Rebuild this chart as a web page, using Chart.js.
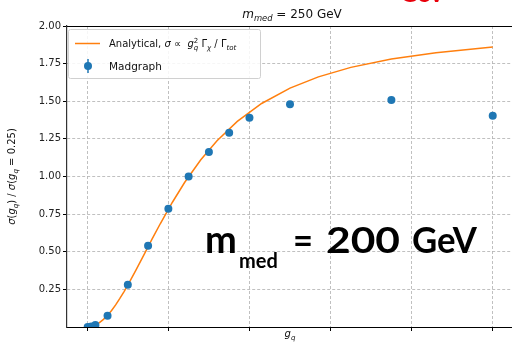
<!DOCTYPE html>
<html>
<head>
<meta charset="utf-8">
<script src="https://cdn.jsdelivr.net/npm/chart.js@4"></script>
<style>
  html, body { margin: 0; padding: 0; background: #fff; overflow: hidden; }
  #wrap { width: 513px; height: 344px; }
</style>
</head>
<body>
<div id="wrap"><canvas id="myChart" width="513" height="344"></canvas></div>
<script>
/* values */
const X_TICKS = [0, 0.2, 0.4, 0.6, 0.8, 1.0];
const Y_TICKS = [0.25, 0.5, 0.75, 1.0, 1.25, 1.5, 1.75, 2.0];

// Madgraph points
const gqMadgraph = [0.001, 0.01, 0.02, 0.05, 0.1, 0.15, 0.2, 0.25, 0.3, 0.35, 0.4, 0.5, 0.75, 1.0];
const sigMadgraph = [0.0, 0.003, 0.013, 0.075, 0.28, 0.54, 0.786, 1.0, 1.163, 1.29, 1.39, 1.48, 1.508, 1.404];

// analytical curve
const gqAnalytical = [0.001, 0.01, 0.02, 0.03, 0.04, 0.05, 0.06, 0.07, 0.08, 0.09, 0.1, 0.12, 0.14, 0.16,
    0.18, 0.21, 0.24, 0.28, 0.32, 0.37, 0.43, 0.5, 0.57, 0.65, 0.75, 0.86, 1.0];
const sigAnalytical = [0.0, 0.003, 0.013, 0.029, 0.051, 0.078, 0.110, 0.147, 0.188, 0.232, 0.279, 0.378, 0.481, 0.585,
    0.686, 0.829, 0.960, 1.111, 1.238, 1.366, 1.485, 1.587, 1.662, 1.725, 1.780, 1.823, 1.86];

const BLUE = '#1f77b4';
const ORANGE = '#ff7f0e';
const FONT = '"DejaVu Sans"';

Chart.defaults.font.family = FONT;

const toPoints = (xs, ys) => xs.map((x, i) => ({x: x, y: ys[i]}));

// text with italic / sub / sup pieces, like matplotlib mathtext
function rich(ctx, parts, size, x, y, draw) {
    let cx = x;
    parts.forEach(p => {
        if (p.ss) {
            ctx.font = 'italic ' + (size * 0.7) + 'px ' + FONT;
            const w1 = ctx.measureText(p.sup).width;
            const w2 = ctx.measureText(p.sub).width;
            if (draw) {
                ctx.font = (size * 0.7) + 'px ' + FONT;
                ctx.fillText(p.sup, cx, y - size * 0.42);
                ctx.font = 'italic ' + (size * 0.7) + 'px ' + FONT;
                ctx.fillText(p.sub, cx, y + size * 0.25);
            }
            cx += Math.max(w1, w2);
        } else {
            const s = p.sub ? size * 0.7 : size;
            ctx.font = (p.i ? 'italic ' : '') + s + 'px ' + FONT;
            if (draw) ctx.fillText(p.t, cx, y + (p.sub ? size * 0.25 : 0));
            cx += ctx.measureText(p.t).width;
        }
    });
    return cx - x;
}
function richCentered(ctx, parts, size, cx, y) {
    const w = rich(ctx, parts, size, 0, 0, false);
    rich(ctx, parts, size, cx - w / 2, y, true);
}
// stretch a word to the width it has in the picture
function fitText(ctx, text, x, y, width) {
    const w = ctx.measureText(text).width;
    ctx.save();
    ctx.translate(x, y);
    ctx.scale(width / w, 1);
    ctx.fillText(text, 0, 0);
    ctx.restore();
}

const extras = {
    id: 'extras',
    afterDraw(chart) {
        const ctx = chart.ctx;
        const a = chart.chartArea;
        ctx.save();
        ctx.textBaseline = 'alphabetic';
        ctx.textAlign = 'left';

        // top spine
        ctx.strokeStyle = '#000';
        ctx.lineWidth = 1;
        ctx.beginPath();
        ctx.moveTo(a.left, a.top + 0.5);
        ctx.lineTo(a.right, a.top + 0.5);
        ctx.stroke();

        ctx.fillStyle = '#111';
        // title
        richCentered(ctx, [{t: 'm', i: 1}, {t: 'med', i: 1, sub: 1}, {t: ' = 250 GeV'}], 12, (a.left + a.right) / 2 + 2, 18);
        // x label
        richCentered(ctx, [{t: 'g', i: 1}, {t: 'q', i: 1, sub: 1}], 10, (a.left + a.right) / 2, 337);
        // y label
        ctx.save();
        ctx.translate(15, (a.top + a.bottom) / 2);
        ctx.rotate(-Math.PI / 2);
        richCentered(ctx, [{t: 'σ', i: 1}, {t: '('}, {t: 'g', i: 1}, {t: 'q', i: 1, sub: 1}, {t: ') / '},
            {t: 'σ', i: 1}, {t: '('}, {t: 'g', i: 1}, {t: 'q', i: 1, sub: 1}, {t: ' = 0.25)'}], 10, 0, 0);
        ctx.restore();

        // legend
        ctx.fillStyle = 'rgba(255,255,255,0.85)';
        ctx.strokeStyle = '#d0d0d0';
        ctx.lineWidth = 1;
        ctx.beginPath();
        ctx.roundRect(68.5, 29.5, 192, 49, 2);
        ctx.fill();
        ctx.stroke();

        ctx.strokeStyle = ORANGE;
        ctx.lineWidth = 1.5;
        ctx.beginPath();
        ctx.moveTo(75, 43.5);
        ctx.lineTo(100, 43.5);
        ctx.stroke();

        ctx.strokeStyle = BLUE;
        ctx.fillStyle = BLUE;
        ctx.lineWidth = 1.5;
        ctx.beginPath();
        ctx.moveTo(88, 59);
        ctx.lineTo(88, 73);
        ctx.stroke();
        ctx.beginPath();
        ctx.arc(88, 66, 4, 0, Math.PI * 2);
        ctx.fill();

        ctx.fillStyle = '#111';
        rich(ctx, [{t: 'Analytical, '}, {t: 'σ', i: 1}, {t: ' ∝  '}, {t: 'g', i: 1}, {ss: 1, sup: '2', sub: 'q'},
            {t: ' Γ'}, {t: 'χ', i: 1, sub: 1}, {t: ' / Γ'}, {t: 'tot', i: 1, sub: 1}], 10, 109, 47, true);
        ctx.font = '10.5px ' + FONT;
        ctx.fillText('Madgraph', 109, 70);

        // overlaid labels
        ctx.fillStyle = '#000';
        ctx.font = 'bold 38px Lato';
        ctx.fillText('m', 205, 253);
        ctx.font = 'bold 20px Lato';
        ctx.fillText('med', 239, 268);
        ctx.font = 'bold 37px Lato';
        fitText(ctx, '=', 293, 253, 20);
        fitText(ctx, '200', 326, 253, 74);
        fitText(ctx, 'GeV', 412, 253, 65);

        ctx.fillStyle = '#e8000b';
        ctx.font = 'bold 24px Lato';
        fitText(ctx, 'GeV', 400, 2, 45);
        ctx.restore();
    }
};

const data = {
    datasets: [{
        type: 'line',
        label: 'Analytical',
        data: toPoints(gqAnalytical, sigAnalytical),
        borderColor: ORANGE,
        borderWidth: 1.5,
        pointRadius: 0,
        tension: 0,
        order: 2
    },
    {
        type: 'scatter',
        label: 'Madgraph',
        data: toPoints(gqMadgraph, sigMadgraph),
        backgroundColor: BLUE,
        borderWidth: 0,
        pointRadius: 4,
        order: 1
    }]
};

const options = {
    animation: false,
    responsive: false,
    events: [],
    layout: { autoPadding: false, padding: { top: 26, right: 0, left: 0, bottom: 0 } },
    plugins: {
        legend: { display: false },
        tooltip: { enabled: false },
        title: { display: false }
    },
    scales: {
        x: {
            type: 'linear',
            min: -0.05,
            max: 1.05,
            afterBuildTicks: s => { s.ticks = X_TICKS.map(v => ({value: v})); },
            afterFit: s => { s.height = 17; },
            ticks: { display: false },
            grid: { color: '#b0b0b0', lineWidth: 0.8, tickColor: '#000', tickLength: 4, tickWidth: 1 },
            border: { color: '#000', width: 1, dash: [3, 2] }
        },
        y: {
            type: 'linear',
            min: 0,
            max: 2,
            afterBuildTicks: s => { s.ticks = Y_TICKS.map(v => ({value: v})); },
            afterFit: s => { s.width = 67; },
            ticks: {
                color: '#222',
                font: { size: 10 },
                padding: 2,
                callback: v => v.toFixed(2)
            },
            grid: { color: '#b0b0b0', lineWidth: 0.8, tickColor: '#000', tickLength: 4, tickWidth: 1 },
            border: { color: '#333', width: 1.2, dash: [3, 2] }
        }
    }
};

const ctx = document.getElementById('myChart');
const myChart = new Chart(ctx, {
    type: 'scatter',
    data,
    options,
    plugins: [extras]
});
</script>
</body>
</html>
